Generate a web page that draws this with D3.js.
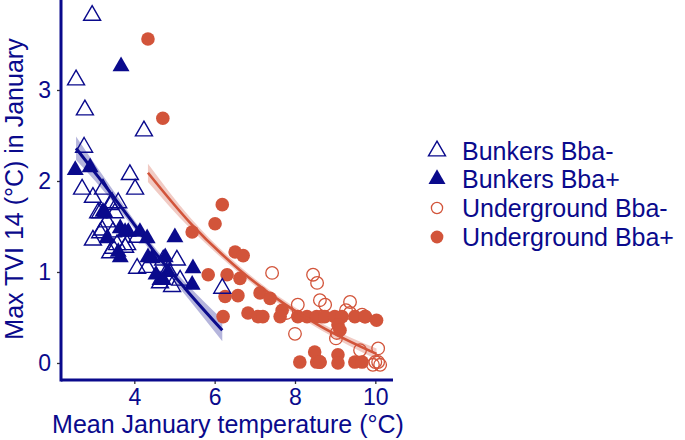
<!DOCTYPE html>
<html>
<head>
<meta charset="utf-8">
<script src="https://cdn.jsdelivr.net/npm/d3@7"></script>
<style>
  body { margin: 0; background: #fff; }
  text { font-family: "Liberation Sans", Arial, sans-serif; }
</style>
</head>
<body>
<div id="chart"></div>
<script>
//////////////////////////////////////////////////////////////
//////////////////////// Data ////////////////////////////////
//////////////////////////////////////////////////////////////

// Bunkers, Bba- (open triangles)
var bunkMinX = [2.95,2.55,2.77,2.75,4.24,3.89,4.02,2.70,2.97,3.22,3.45,3.60,3.15,3.32,2.97,3.20,3.47,3.47,3.77,3.40,3.82,4.07,4.32,4.72,5.06,5.14,4.94,4.64,6.19,3.10,3.52,3.40,3.15,3.57,4.07,4.84];
var bunkMinY = [3.82,3.11,2.78,2.37,2.55,2.07,1.91,1.91,1.82,1.91,1.76,1.76,1.65,1.55,1.35,1.46,1.44,1.26,1.27,1.21,1.30,1.04,1.05,1.13,1.13,0.91,0.84,0.88,0.82,1.65,1.65,1.74,1.43,1.30,1.38,1.02];

// Bunkers, Bba+ (filled triangles)
var bunkPlusX = [3.67,2.53,2.90,3.22,3.32,3.65,3.85,4.14,4.32,3.60,3.65,4.34,4.44,5.01,5.46,5.44,4.64,4.77,4.84,3.27,3.77,4.54,4.72];
var bunkPlusY = [3.26,2.12,2.15,1.66,1.37,1.48,1.44,1.44,1.37,1.22,1.16,1.16,1.15,1.38,1.04,0.86,0.91,1.16,1.00,1.65,1.44,0.97,0.91];

// Underground, Bba- (open circles)
var undMinX = [7.43,8.45,8.55,8.07,8.62,8.75,9.37,9.27,8.00,9.02,9.04,9.75,10.07,9.62,10.07,10.00,10.12,9.94,7.79,8.67,9.37,9.67,8.62];
var undMinY = [0.99,0.97,0.88,0.64,0.69,0.64,0.67,0.58,0.32,0.27,0.33,0.51,0.16,0.14,0.01,0.01,-0.02,-0.02,0.55,0.51,0.55,0.53,0.01];

// Underground, Bba+ (filled circles)
var undPlusX = [4.34,4.71,5.44,6.01,6.19,5.84,6.31,6.63,6.51,6.71,6.26,6.58,6.21,6.83,7.08,7.20,7.13,7.38,7.68,7.63,8.07,8.30,8.54,8.74,8.99,9.17,9.07,9.12,9.49,9.74,10.03,8.12,8.49,8.54,8.62,9.07,9.07,9.49,9.67];
var undPlusY = [3.56,2.69,1.44,1.53,1.74,0.97,0.97,0.93,1.22,1.18,0.73,0.74,0.51,0.55,0.51,0.51,0.77,0.71,0.58,0.51,0.51,0.51,0.51,0.51,0.51,0.51,0.42,0.36,0.51,0.51,0.47,0.01,0.12,0.01,0.01,0.09,0.00,0.01,0.01];

// fitted curves with confidence band
var bunkFitX  = [2.55,3.20,3.90,4.47,5.30,6.19];
var bunkFitY  = [2.36,1.99,1.58,1.24,0.80,0.36];
var bunkFitSE = [0.13,0.08,0.05,0.05,0.07,0.12];

var undFitX  = [4.34,5.39,6.63,7.70,8.65,10.03];
var undFitY  = [2.09,1.54,1.02,0.66,0.40,0.10];
var undFitSE = [0.10,0.06,0.04,0.04,0.04,0.06];

var xTicks = [4,6,8,10];
var yTicks = [0,1,2,3];
var legendLabels = ["Bunkers Bba-","Bunkers Bba+","Underground Bba-","Underground Bba+"];

//////////////////////////////////////////////////////////////
//////////////////////// Setup ///////////////////////////////
//////////////////////////////////////////////////////////////

var width = 685, height = 440;
var navy = "#0a0a8c";
var orange = "#d2543a";

var plot = {left: 61, right: 393, top: 0, bottom: 380};

var x = d3.scaleLinear().domain([2.175, 10.44]).range([plot.left, plot.right]);
var y = d3.scaleLinear().domain([-0.187, 3.989]).range([plot.bottom, plot.top]);

var svg = d3.select("#chart").append("svg")
    .attr("width", width)
    .attr("height", height);

function zipPts(xs, ys) {
  return xs.map(function (v, i) { return {x: v, y: ys[i]}; });
}

function fitRows(xs, ys, se) {
  return xs.map(function (v, i) { return {x: v, y: ys[i], lo: ys[i] - se[i], hi: ys[i] + se[i]}; });
}

//////////////////////////////////////////////////////////////
//////////////////////// Fits ////////////////////////////////
//////////////////////////////////////////////////////////////

var band = d3.area()
    .curve(d3.curveMonotoneX)
    .x(function (d) { return x(d.x); })
    .y0(function (d) { return y(d.lo); })
    .y1(function (d) { return y(d.hi); });

var line = d3.line()
    .curve(d3.curveMonotoneX)
    .x(function (d) { return x(d.x); })
    .y(function (d) { return y(d.y); });

var bunkFit = fitRows(bunkFitX, bunkFitY, bunkFitSE);
var undFit = fitRows(undFitX, undFitY, undFitSE);

svg.append("path").attr("d", band(bunkFit)).attr("fill", navy).attr("opacity", 0.3);
svg.append("path").attr("d", band(undFit)).attr("fill", orange).attr("opacity", 0.3);

//////////////////////////////////////////////////////////////
//////////////////////// Points //////////////////////////////
//////////////////////////////////////////////////////////////

var tri = d3.symbol().type(d3.symbolTriangle).size(125);

svg.append("g").selectAll("circle")
    .data(zipPts(undMinX, undMinY))
    .enter().append("circle")
    .attr("cx", function (d) { return x(d.x); })
    .attr("cy", function (d) { return y(d.y); })
    .attr("r", 6.3)
    .attr("fill", "none")
    .attr("stroke", orange)
    .attr("stroke-width", 1.3);

svg.append("g").selectAll("circle")
    .data(zipPts(undPlusX, undPlusY))
    .enter().append("circle")
    .attr("cx", function (d) { return x(d.x); })
    .attr("cy", function (d) { return y(d.y); })
    .attr("r", 6.8)
    .attr("fill", orange);

svg.append("g").selectAll("path")
    .data(zipPts(bunkMinX, bunkMinY))
    .enter().append("path")
    .attr("d", tri)
    .attr("transform", function (d) { return "translate(" + x(d.x) + "," + y(d.y) + ")"; })
    .attr("fill", "none")
    .attr("stroke", navy)
    .attr("stroke-width", 1.4);

svg.append("g").selectAll("path")
    .data(zipPts(bunkPlusX, bunkPlusY))
    .enter().append("path")
    .attr("d", tri)
    .attr("transform", function (d) { return "translate(" + x(d.x) + "," + y(d.y) + ")"; })
    .attr("fill", navy);

svg.append("path").attr("d", line(bunkFit)).attr("fill", "none").attr("stroke", navy).attr("stroke-width", 3);
svg.append("path").attr("d", line(undFit)).attr("fill", "none").attr("stroke", orange).attr("stroke-width", 2.6);

//////////////////////////////////////////////////////////////
//////////////////////// Axes ////////////////////////////////
//////////////////////////////////////////////////////////////

var xAxis = svg.append("g")
    .attr("transform", "translate(0," + plot.bottom + ")")
    .call(d3.axisBottom(x).tickValues(xTicks).tickFormat(d3.format("d")).tickSize(4).tickPadding(5));

var yAxis = svg.append("g")
    .attr("transform", "translate(" + plot.left + ",0)")
    .call(d3.axisLeft(y).tickValues(yTicks).tickFormat(d3.format("d")).tickSize(4).tickPadding(6));

[xAxis, yAxis].forEach(function (g) {
  g.select(".domain").remove();
  g.selectAll(".tick line").attr("stroke", "#333").attr("stroke-width", 1.3);
  g.selectAll(".tick text")
    .attr("fill", navy)
    .style("font-size", "23px")
    .style("font-family", "Liberation Sans, Arial, sans-serif");
});

// axis lines
svg.append("line")
    .attr("x1", plot.left).attr("x2", plot.right)
    .attr("y1", plot.bottom).attr("y2", plot.bottom)
    .attr("stroke", navy).attr("stroke-width", 3);
svg.append("line")
    .attr("x1", plot.left).attr("x2", plot.left)
    .attr("y1", plot.top).attr("y2", plot.bottom + 1.5)
    .attr("stroke", navy).attr("stroke-width", 3);

svg.append("text")
    .attr("x", 228).attr("y", 433)
    .attr("text-anchor", "middle")
    .attr("fill", navy)
    .style("font-size", "25px")
    .text("Mean January temperature (°C)");

svg.append("text")
    .attr("transform", "translate(23,189) rotate(-90)")
    .attr("text-anchor", "middle")
    .attr("fill", navy)
    .style("font-size", "25px")
    .text("Max TVI 14 (°C) in January");

//////////////////////////////////////////////////////////////
//////////////////////// Legend //////////////////////////////
//////////////////////////////////////////////////////////////

var legY = [151, 179, 208, 237];

var leg = svg.append("g");

leg.append("path").attr("d", tri).attr("transform", "translate(437," + legY[0] + ")")
    .attr("fill", "none").attr("stroke", navy).attr("stroke-width", 1.4);
leg.append("path").attr("d", tri).attr("transform", "translate(437," + legY[1] + ")")
    .attr("fill", navy);
leg.append("circle").attr("cx", 437).attr("cy", legY[2]).attr("r", 5.6)
    .attr("fill", "none").attr("stroke", orange).attr("stroke-width", 1.3);
leg.append("circle").attr("cx", 437).attr("cy", legY[3]).attr("r", 6.4)
    .attr("fill", orange);

leg.selectAll("text")
    .data(legendLabels)
    .enter().append("text")
    .attr("x", 462)
    .attr("y", function (d, i) { return legY[i]; })
    .attr("dy", "0.36em")
    .attr("fill", navy)
    .style("font-size", "25px")
    .text(function (d) { return d; });
</script>
</body>
</html>
